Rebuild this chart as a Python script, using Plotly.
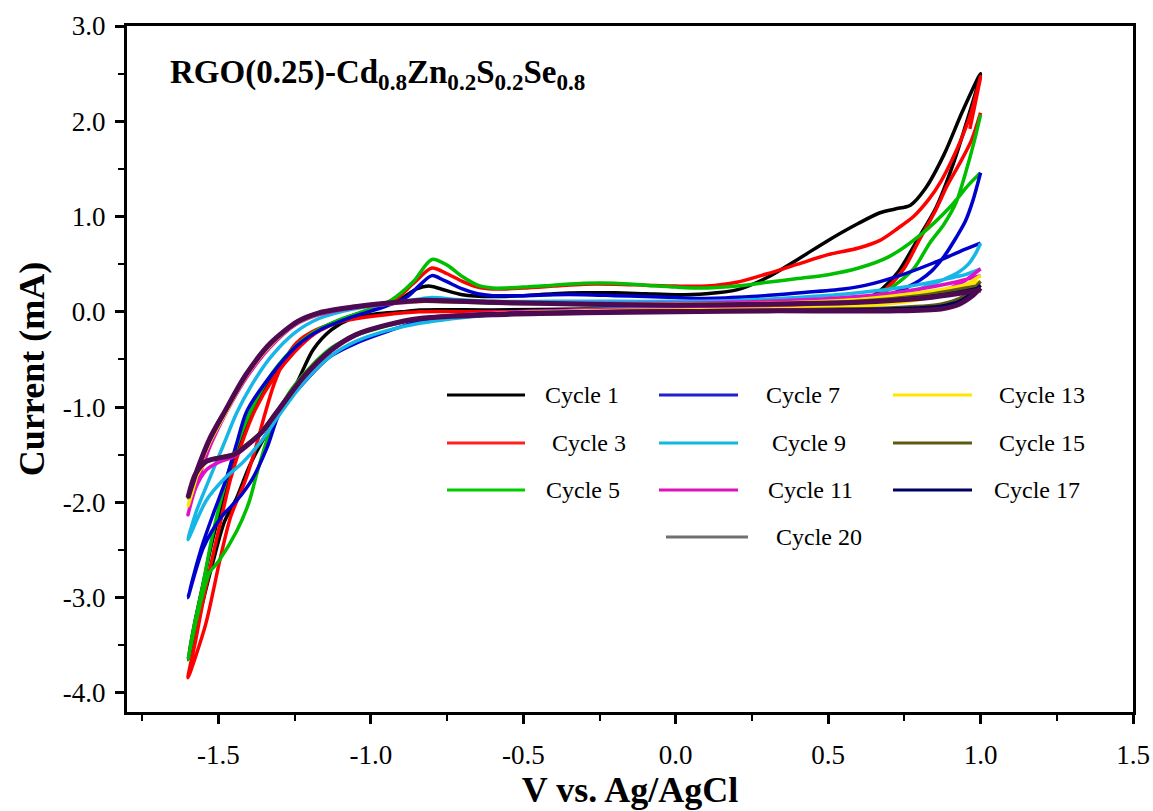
import plotly.graph_objects as go

# ---------------- data ----------------
CYCLES = ["Cycle 1", "Cycle 3", "Cycle 5", "Cycle 7", "Cycle 9",
          "Cycle 11", "Cycle 13", "Cycle 15", "Cycle 17", "Cycle 20"]
LINE_COLORS = ["#000000", "#FF0000", "#00BE00", "#0000CC", "#16B6E6",
               "#E010C8", "#FFE600", "#5E5A10", "#00005E", "#4E0A50"]
LEGEND_COLORS = ["#000000", "#FF2020", "#00CC00", "#2020D0", "#10B8E0",
                 "#E010C0", "#FFE600", "#5E5A10", "#000060", "#707070"]

# Cycle 1 (potential V, current mA)
C1_V = [1.0, 0.955, 0.91, 0.855, 0.79, 0.73, 0.68, 0.63, 0.55, 0.4, 0.2, 0.0, -0.3, -0.6, -0.84, -0.9, -0.98,
        -1.07, -1.13, -1.19, -1.245, -1.30, -1.353, -1.40, -1.44, -1.48, -1.52, -1.56, -1.6,
        -1.58, -1.55, -1.52, -1.48, -1.44, -1.385, -1.33, -1.26, -1.18, -1.08, -0.98, -0.9, -0.85, -0.81,
        -0.77, -0.7, -0.6, -0.5, -0.4, -0.3, -0.2, -0.1, 0.0, 0.1, 0.2, 0.3, 0.4, 0.5, 0.6, 0.67, 0.72,
        0.77, 0.82, 0.88, 0.94, 1.0]
C1_I = [2.50, 2.0, 1.55, 1.10, 0.74, 0.42, 0.25, 0.14, 0.08, 0.05, 0.04, 0.03, 0.03, 0.02, 0.02, 0.0, -0.02,
        -0.08, -0.19, -0.40, -0.76, -1.05, -1.34, -1.63, -1.95, -2.2, -2.65, -3.15, -3.65,
        -3.3, -2.85, -2.4, -1.92, -1.48, -1.03, -0.72, -0.42, -0.2, -0.06, 0.04, 0.14, 0.24, 0.27,
        0.24, 0.18, 0.16, 0.17, 0.19, 0.20, 0.20, 0.19, 0.18, 0.19, 0.23, 0.36, 0.55, 0.75, 0.93, 1.04, 1.08,
        1.12, 1.30, 1.65, 2.10, 2.50]

# Cycle 3
C3_V = [1.0, 0.97, 0.93, 0.89, 0.85, 0.80, 0.75, 0.70, 0.65, 0.58, 0.4, 0.2, 0.0, -0.3, -0.6, -0.84, -0.95,
        -1.08, -1.18, -1.245, -1.29, -1.32, -1.35, -1.38, -1.413, -1.46, -1.495, -1.542, -1.6,
        -1.575, -1.545, -1.50, -1.46, -1.42, -1.38, -1.32, -1.25, -1.18, -1.09, -1.0, -0.92, -0.86, -0.8,
        -0.75, -0.7, -0.65, -0.6, -0.5, -0.4, -0.3, -0.2, -0.1, 0.0, 0.1, 0.2, 0.3, 0.4, 0.5, 0.6, 0.67,
        0.73, 0.78, 0.83, 0.87, 0.91, 0.94, 0.97, 1.0, 0.98, 0.965]
C3_I = [2.09, 1.80, 1.55, 1.32, 1.05, 0.76, 0.46, 0.27, 0.15, 0.08, 0.04, 0.03, 0.02, 0.01, 0.0, 0.0, -0.03,
        -0.09, -0.19, -0.33, -0.55, -0.78, -1.1, -1.45, -1.78, -2.15, -2.6, -3.28, -3.84,
        -3.45, -2.95, -2.3, -1.75, -1.35, -1.03, -0.70, -0.42, -0.22, -0.08, 0.03, 0.13, 0.30, 0.46,
        0.40, 0.32, 0.26, 0.24, 0.25, 0.27, 0.29, 0.29, 0.28, 0.27, 0.27, 0.31, 0.40, 0.50, 0.60, 0.67, 0.75,
        0.88, 1.0, 1.18, 1.37, 1.62, 1.84, 2.1, 2.47, 2.15, 1.92]

# Cycle 5
C5_V = [1.0, 0.98, 0.95, 0.92, 0.88, 0.833, 0.78, 0.71, 0.65, 0.55, 0.4, 0.2, 0.0, -0.3, -0.6, -0.84, -0.95,
        -1.05, -1.13, -1.21, -1.27, -1.33, -1.37, -1.40, -1.44, -1.50, -1.53, -1.57, -1.6,
        -1.58, -1.55, -1.52, -1.49, -1.45, -1.40, -1.34, -1.26, -1.19, -1.1, -1.0, -0.93, -0.86, -0.8,
        -0.75, -0.7, -0.65, -0.6, -0.5, -0.4, -0.3, -0.2, -0.1, 0.0, 0.1, 0.2, 0.3, 0.4, 0.5, 0.6, 0.7,
        0.8, 0.9, 0.96, 1.0]
C5_I = [2.07, 1.80, 1.45, 1.15, 0.92, 0.72, 0.45, 0.26, 0.15, 0.08, 0.05, 0.04, 0.03, 0.01, -0.02, -0.07, -0.15,
        -0.25, -0.38, -0.62, -0.86, -1.25, -1.65, -2.0, -2.3, -2.62, -2.74, -3.2, -3.65,
        -3.3, -2.85, -2.35, -1.95, -1.5, -1.08, -0.72, -0.40, -0.22, -0.08, 0.03, 0.13, 0.32, 0.55,
        0.49, 0.37, 0.28, 0.25, 0.26, 0.28, 0.30, 0.30, 0.28, 0.26, 0.25, 0.27, 0.31, 0.35, 0.39, 0.46, 0.58,
        0.80, 1.10, 1.33, 1.46]

# Cycle 7
C7_V = [1.0, 0.975, 0.95, 0.92, 0.88, 0.84, 0.80, 0.76, 0.7, 0.6, 0.4, 0.2, 0.0, -0.3, -0.6, -0.84, -0.95,
        -1.05, -1.134, -1.222, -1.298, -1.34, -1.39, -1.44, -1.49, -1.55, -1.6,
        -1.58, -1.55, -1.517, -1.473, -1.44, -1.408, -1.331, -1.244, -1.167, -1.058, -0.95, -0.88, -0.84, -0.8,
        -0.76, -0.7, -0.65, -0.6, -0.5, -0.4, -0.3, -0.2, -0.1, 0.0, 0.1, 0.25, 0.41, 0.55, 0.625, 0.734,
        0.843, 0.93, 1.0]
C7_I = [1.46, 1.17, 0.95, 0.78, 0.58, 0.43, 0.33, 0.26, 0.18, 0.12, 0.08, 0.06, 0.05, 0.02, -0.03, -0.10, -0.21,
        -0.33, -0.47, -0.75, -1.05, -1.42, -1.76, -1.98, -2.15, -2.48, -3.0,
        -2.75, -2.42, -2.12, -1.74, -1.38, -1.05, -0.68, -0.36, -0.19, -0.05, 0.06, 0.16, 0.28, 0.38,
        0.33, 0.24, 0.19, 0.17, 0.17, 0.18, 0.18, 0.17, 0.16, 0.15, 0.14, 0.16, 0.20, 0.24, 0.28, 0.38,
        0.51, 0.63, 0.72]

# Cycle 9
C9_V = [1.0, 0.985, 0.96, 0.93, 0.88, 0.8, 0.7, 0.5, 0.2, 0.0, -0.3, -0.6, -0.84, -0.95, -1.05, -1.13,
        -1.22, -1.3, -1.36, -1.42, -1.48, -1.54, -1.6,
        -1.585, -1.571, -1.528, -1.484, -1.44, -1.397, -1.33, -1.25, -1.17, -1.06, -0.95, -0.85, -0.8,
        -0.72, -0.6, -0.4, -0.2, 0.0, 0.2, 0.4, 0.6, 0.75, 0.85, 0.95, 1.0]
C9_I = [0.72, 0.62, 0.50, 0.42, 0.34, 0.24, 0.15, 0.08, 0.05, 0.04, 0.02, -0.03, -0.12, -0.20, -0.31, -0.46,
        -0.74, -1.08, -1.36, -1.58, -1.75, -1.98, -2.39,
        -2.22, -2.08, -1.74, -1.40, -1.06, -0.80, -0.48, -0.22, -0.07, 0.03, 0.08, 0.13, 0.15,
        0.13, 0.11, 0.11, 0.11, 0.11, 0.12, 0.15, 0.20, 0.26, 0.32, 0.39, 0.45]

# Cycle 11
C11_V = [1.0, 0.95, 0.9, 0.8, 0.6, 0.3, 0.0, -0.3, -0.6, -0.84, -0.95, -1.05, -1.13, -1.22, -1.31, -1.36,
         -1.41, -1.45, -1.50, -1.54, -1.575, -1.6,
         -1.585, -1.56, -1.53, -1.5, -1.47, -1.41, -1.33, -1.25, -1.17, -1.06, -0.95, -0.82, -0.6, -0.3,
         0.0, 0.3, 0.6, 0.8, 0.9, 1.0]
C11_I = [0.45, 0.33, 0.25, 0.15, 0.07, 0.04, 0.03, 0.02, -0.01, -0.07, -0.14, -0.25, -0.41, -0.69, -1.07, -1.28,
         -1.42, -1.52, -1.58, -1.66, -1.85, -2.13,
         -1.95, -1.70, -1.43, -1.22, -1.03, -0.70, -0.37, -0.14, -0.03, 0.04, 0.08, 0.11, 0.10, 0.09,
         0.09, 0.11, 0.16, 0.24, 0.30, 0.38]

# Cycle 13
C13_V = [1.0, 0.95, 0.9, 0.8, 0.6, 0.3, 0.0, -0.3, -0.6, -0.84, -0.95, -1.05, -1.13, -1.22, -1.31, -1.36,
         -1.41, -1.45, -1.50, -1.54, -1.575, -1.6,
         -1.585, -1.565, -1.53, -1.48, -1.41, -1.33, -1.24, -1.17, -1.06, -0.95, -0.82, -0.6, -0.3,
         0.0, 0.3, 0.6, 0.8, 0.9, 1.0]
C13_I = [0.38, 0.28, 0.21, 0.13, 0.06, 0.03, 0.02, 0.01, -0.02, -0.07, -0.14, -0.24, -0.40, -0.67, -1.05, -1.26,
         -1.40, -1.49, -1.53, -1.58, -1.75, -2.04,
         -1.88, -1.66, -1.38, -1.08, -0.68, -0.35, -0.11, -0.02, 0.05, 0.09, 0.11, 0.10, 0.08,
         0.08, 0.09, 0.13, 0.20, 0.25, 0.32]

# Cycle 15
C15_V = [1.0, 0.97, 0.93, 0.87, 0.7, 0.3, 0.0, -0.3, -0.6, -0.84, -0.95, -1.05, -1.13, -1.22, -1.31, -1.36,
         -1.41, -1.45, -1.50, -1.54, -1.575, -1.6,
         -1.585, -1.565, -1.53, -1.48, -1.41, -1.33, -1.24, -1.17, -1.06, -0.95, -0.83, -0.6, -0.3,
         0.0, 0.3, 0.6, 0.8, 0.9, 1.0]
C15_I = [0.32, 0.22, 0.14, 0.08, 0.04, 0.02, 0.01, 0.0, -0.02, -0.07, -0.14, -0.24, -0.40, -0.67, -1.05, -1.26,
         -1.40, -1.49, -1.53, -1.57, -1.71, -1.95,
         -1.80, -1.63, -1.36, -1.06, -0.67, -0.34, -0.11, -0.02, 0.05, 0.09, 0.11, 0.09, 0.08,
         0.07, 0.08, 0.11, 0.17, 0.22, 0.28]

# Cycle 17
C17_V = [1.0, 0.97, 0.93, 0.87, 0.7, 0.3, 0.0, -0.3, -0.6, -0.84, -0.95, -1.05, -1.13, -1.22, -1.31, -1.36,
         -1.41, -1.45, -1.50, -1.54, -1.575, -1.6,
         -1.585, -1.57, -1.53, -1.48, -1.41, -1.33, -1.24, -1.17, -1.06, -0.95, -0.84, -0.6, -0.3,
         0.0, 0.3, 0.6, 0.8, 0.9, 1.0]
C17_I = [0.28, 0.19, 0.11, 0.06, 0.03, 0.01, 0.01, 0.0, -0.02, -0.07, -0.14, -0.24, -0.40, -0.68, -1.06, -1.27,
         -1.41, -1.50, -1.535, -1.57, -1.70, -1.95,
         -1.80, -1.65, -1.35, -1.05, -0.66, -0.33, -0.10, -0.01, 0.05, 0.09, 0.12, 0.10, 0.08,
         0.07, 0.08, 0.10, 0.15, 0.19, 0.25]

# Cycle 20
C20_V = [1.0, 0.97, 0.93, 0.87, 0.7, 0.3, 0.0, -0.3, -0.6, -0.84, -0.95, -1.05, -1.13, -1.22, -1.31, -1.36,
         -1.41, -1.45, -1.50, -1.54, -1.575, -1.6,
         -1.585, -1.57, -1.53, -1.48, -1.41, -1.33, -1.24, -1.17, -1.06, -0.95, -0.84, -0.6, -0.3,
         0.0, 0.3, 0.6, 0.8, 0.9, 1.0]
C20_I = [0.25, 0.16, 0.08, 0.03, 0.01, 0.01, 0.0, -0.01, -0.03, -0.07, -0.14, -0.24, -0.40, -0.68, -1.06, -1.27,
         -1.41, -1.50, -1.535, -1.57, -1.70, -1.95,
         -1.80, -1.66, -1.34, -1.05, -0.66, -0.33, -0.10, -0.01, 0.05, 0.09, 0.12, 0.10, 0.08,
         0.07, 0.08, 0.10, 0.14, 0.18, 0.23]

SERIES_V = [C1_V, C3_V, C5_V, C7_V, C9_V, C11_V, C13_V, C15_V, C17_V, C20_V]
SERIES_I = [C1_I, C3_I, C5_I, C7_I, C9_I, C11_I, C13_I, C15_I, C17_I, C20_I]

X_TICKS = [-1.5, -1.0, -0.5, 0.0, 0.5, 1.0, 1.5]
Y_TICKS = [-4.0, -3.0, -2.0, -1.0, 0.0, 1.0, 2.0, 3.0]

# ---------------- figure ----------------
FONT = "Liberation Serif, Times New Roman, serif"
W, H = 1153, 811
L, R, T, B = 127, 20, 26, 99
PW, PH = W - L - R, H - T - B


def px(x):
    return (x - L) / PW


def py(y):
    return (H - B - y) / PH


fig = go.Figure()
for name, color, v, i in zip(CYCLES, LINE_COLORS, SERIES_V, SERIES_I):
    fig.add_trace(go.Scatter(
        x=v, y=i, mode="lines", name=name, showlegend=False,
        line=dict(color=color, width=5 if name == "Cycle 20" else 3.5,
                  shape="spline", smoothing=0.8),
    ))

# manual legend laid out like the reference (3 columns + centred last row)
LEG_POS = [  # (line x0, line x1, y, text x) in pixels
    (447, 525, 395, 543), (447, 525, 443, 550), (447, 525, 490, 544),
    (659, 738, 395, 764), (659, 738, 443, 770), (659, 738, 490, 766),
    (893, 972, 395, 997), (893, 972, 443, 997), (893, 972, 490, 992),
    (666, 748, 537, 774),
]
shapes, annos = [], []
for name, col, (x0, x1, yy, tx) in zip(CYCLES, LEGEND_COLORS, LEG_POS):
    shapes.append(dict(type="line", xref="paper", yref="paper",
                       x0=px(x0), x1=px(x1), y0=py(yy), y1=py(yy),
                       line=dict(color=col, width=3)))
    annos.append(dict(text=name, xref="paper", yref="paper", x=px(tx), y=py(yy),
                      xanchor="left", yanchor="middle", showarrow=False,
                      font=dict(family=FONT, size=24, color="black")))

annos.append(dict(
    text="<b>RGO(0.25)-Cd<sub>0.8</sub>Zn<sub>0.2</sub>S<sub>0.2</sub>Se<sub>0.8</sub></b>",
    xref="paper", yref="paper", x=px(168), y=py(74), xanchor="left", yanchor="middle",
    showarrow=False, font=dict(family=FONT, size=33, color="black")))

fig.update_layout(
    width=W, height=H,
    margin=dict(l=L, r=R, t=T, b=B, autoexpand=False),
    paper_bgcolor="white", plot_bgcolor="white",
    shapes=shapes, annotations=annos,
    showlegend=False,
    font=dict(family=FONT, color="black"),
)
fig.update_xaxes(
    range=[-1.8, 1.5], tickmode="array", tickvals=X_TICKS,
    ticktext=[f"{t:.1f}" for t in X_TICKS],
    ticks="outside", ticklen=9, tickwidth=3, tickcolor="black",
    minor=dict(dtick=0.25, tick0=0, ticks="outside", ticklen=6, tickwidth=2, tickcolor="black"),
    showline=True, linecolor="black", linewidth=3, mirror=True,
    showgrid=False, zeroline=False,
    tickfont=dict(family=FONT, size=27, color="black"), ticklabelstandoff=8,
    title=dict(text="<b>V vs. Ag/AgCl</b>", font=dict(family=FONT, size=36, color="black"), standoff=6),
)
fig.update_yaxes(
    range=[-4.2, 3.0001], tickmode="array", tickvals=Y_TICKS,
    ticktext=[f"{t:.1f}" for t in Y_TICKS],
    ticks="outside", ticklen=9, tickwidth=3, tickcolor="black",
    minor=dict(dtick=0.5, tick0=0, ticks="outside", ticklen=6, tickwidth=2, tickcolor="black"),
    showline=True, linecolor="black", linewidth=3, mirror=True,
    showgrid=False, zeroline=False,
    tickfont=dict(family=FONT, size=27, color="black"), ticklabelstandoff=4,
    title=dict(text="<b>Current (mA)</b>", font=dict(family=FONT, size=36, color="black"), standoff=8),
)

fig.write_html("out.html")
